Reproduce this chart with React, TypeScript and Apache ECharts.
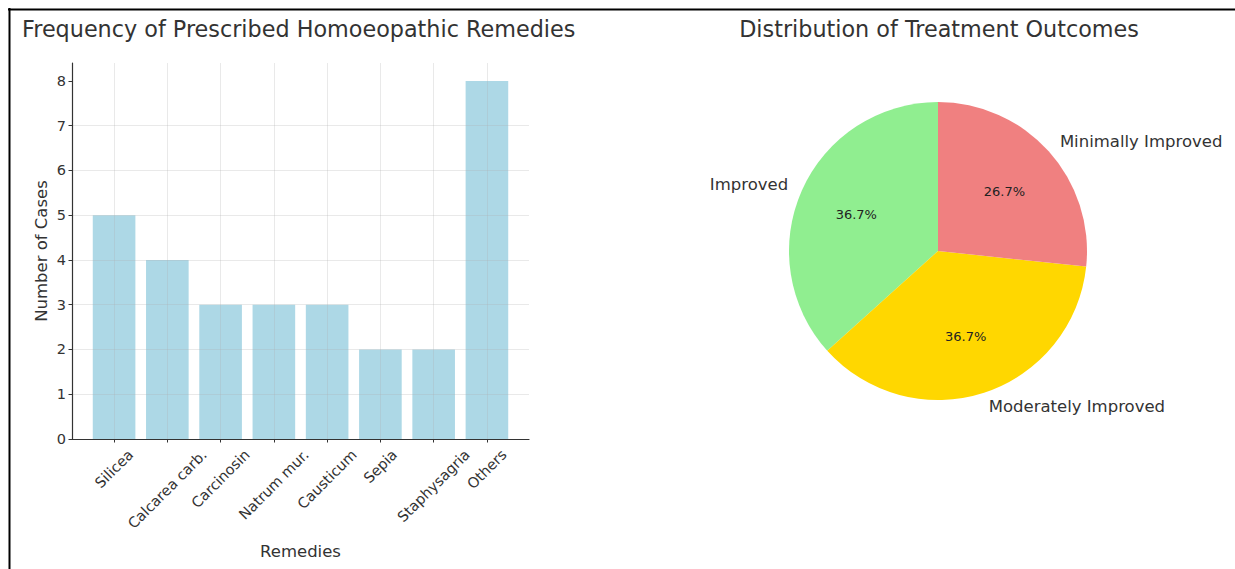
import React, { useEffect, useRef } from "react";
import * as echarts from "echarts";

// Bar chart: how often each remedy was prescribed
const remedies = [
  "Silicea",
  "Calcarea carb.",
  "Carcinosin",
  "Natrum mur.",
  "Causticum",
  "Sepia",
  "Staphysagria",
  "Others",
];
const caseCounts = [5, 4, 3, 3, 3, 2, 2, 8];
const caseTicks = [0, 1, 2, 3, 4, 5, 6, 7, 8];

// Pie chart: treatment outcomes
const outcomeNames = ["Improved", "Moderately Improved", "Minimally Improved"];
const outcomeCounts = [11, 11, 8];
const outcomeColors = ["#90EE90", "#FFD700", "#F08080"];

const FONT = "'DejaVu Sans', Verdana, sans-serif";
const TEXT = "#333";
const TICK_SIZE = 14.5;
const LABEL_SIZE = 16.5;
const TITLE_SIZE = 22.3;

function textWidth(text: string, size: number): number {
  const ctx = document.createElement("canvas").getContext("2d");
  if (!ctx) return text.length * size * 0.6;
  ctx.font = `${size}px ${FONT}`;
  return ctx.measureText(text).width;
}

export default function App() {
  const ref = useRef<HTMLDivElement>(null);

  useEffect(() => {
    if (!ref.current) return;
    const chart = echarts.init(ref.current, null, { renderer: "svg" });

    const n = remedies.length;
    // bars are 0.8 wide, axis padded by 5% of the bar extent on each side
    const pad = 0.4 + 0.05 * (n - 1 + 0.8);
    const plotLeft = 72;
    const plotWidth = 457;
    const unit = plotWidth / (n - 1 + 2 * pad);
    const bandLeft = plotLeft + (pad - 0.5) * unit;
    const yMax = caseTicks[caseTicks.length - 1] * 1.05;

    // Rotated tick labels are centred under their tick and hang below the axis:
    // the right padding slides the text back along its baseline and the line
    // height pushes it down, so the rotated box's centre sits straight below the tick.
    const remedyItems = remedies.map((name) => {
      const s = (textWidth(name, TICK_SIZE) + TICK_SIZE) / 2;
      return {
        value: name,
        textStyle: {
          align: "center",
          verticalAlign: "top",
          lineHeight: s,
          padding: [0, s, 0, 0],
          fontSize: TICK_SIZE,
          color: TEXT,
          fontFamily: FONT,
        },
      };
    });

    const gridLine = { color: "rgba(176,176,176,0.35)", width: 0.8 };
    const axisLine = { color: "#333", width: 1.2 };
    const titleStyle = { fontSize: TITLE_SIZE, fontWeight: "normal", color: TEXT, fontFamily: FONT };

    chart.setOption({
      animation: false,
      textStyle: { fontFamily: FONT },
      title: [
        {
          text: "Frequency of Prescribed Homoeopathic Remedies",
          left: 22,
          top: 18,
          padding: 0,
          textStyle: titleStyle,
        },
        {
          text: "Distribution of Treatment Outcomes",
          left: 939,
          top: 18,
          padding: 0,
          textAlign: "center",
          textStyle: titleStyle,
        },
      ],
      graphic: [
        {
          type: "line",
          shape: { x1: 8, y1: 9.5, x2: 1235, y2: 9.5 },
          style: { stroke: "#000", lineWidth: 2 },
          silent: true,
        },
        {
          type: "line",
          shape: { x1: 9.5, y1: 8, x2: 9.5, y2: 569 },
          style: { stroke: "#000", lineWidth: 2 },
          silent: true,
        },
      ],
      grid: [
        { left: plotLeft, top: 63, width: plotWidth, height: 376, outerBoundsMode: "none", containLabel: false },
        { left: bandLeft, top: 63, width: n * unit, height: 376, outerBoundsMode: "none", containLabel: false },
      ],
      xAxis: [
        {
          gridIndex: 0,
          type: "value",
          min: -pad,
          max: n - 1 + pad,
          splitNumber: n,
          z: 3,
          axisLine: { show: true, onZero: false, lineStyle: axisLine },
          axisTick: { show: false },
          axisLabel: { show: false },
          splitLine: { show: true, showMinLine: false, showMaxLine: false, lineStyle: gridLine },
        },
        {
          gridIndex: 1,
          type: "category",
          data: remedyItems,
          boundaryGap: true,
          z: 3,
          axisLine: { show: false },
          axisTick: { show: true, alignWithLabel: true, length: 3.5, lineStyle: { color: "#333" } },
          axisLabel: {
            interval: 0,
            rotate: 45,
            margin: 8,
            fontSize: TICK_SIZE,
            color: TEXT,
            fontFamily: FONT,
          },
          splitLine: { show: false },
          name: "Remedies",
          nameLocation: "middle",
          nameGap: 104,
          nameMoveOverlap: false,
          nameTextStyle: { fontSize: LABEL_SIZE, color: TEXT, fontFamily: FONT },
        },
      ],
      yAxis: [
        {
          gridIndex: 0,
          type: "value",
          min: 0,
          max: yMax,
          splitNumber: caseTicks.length - 1,
          z: 3,
          axisLine: { show: true, onZero: false, lineStyle: axisLine },
          axisTick: { show: true, length: 3.5, customValues: caseTicks, lineStyle: { color: "#333" } },
          axisLabel: {
            customValues: caseTicks,
            margin: 6,
            fontSize: TICK_SIZE,
            color: TEXT,
            fontFamily: FONT,
          },
          splitLine: { show: true, showMinLine: false, showMaxLine: false, lineStyle: gridLine },
          name: "Number of Cases",
          nameLocation: "middle",
          nameGap: 22,
          nameMoveOverlap: false,
          nameTextStyle: { fontSize: LABEL_SIZE, color: TEXT, fontFamily: FONT },
        },
        {
          gridIndex: 1,
          type: "value",
          min: 0,
          max: yMax,
          show: false,
        },
      ],
      series: [
        {
          type: "bar",
          xAxisIndex: 1,
          yAxisIndex: 1,
          data: caseCounts,
          barWidth: "80%",
          itemStyle: { color: "#ADD8E6" },
          silent: true,
          z: 2,
        },
        {
          type: "pie",
          center: [938, 251],
          radius: 149,
          startAngle: 90,
          clockwise: false,
          avoidLabelOverlap: false,
          silent: true,
          data: outcomeNames.map((name, i) => ({
            name,
            value: outcomeCounts[i],
            itemStyle: { color: outcomeColors[i], borderWidth: 0 },
          })),
          label: {
            show: true,
            position: "outside",
            distanceToLabelLine: 0,
            fontSize: LABEL_SIZE,
            color: TEXT,
            fontFamily: FONT,
          },
          labelLine: { show: false, length: 15, length2: 0 },
        },
        {
          // transparent overlay carrying the percentage labels at 0.6 of the radius
          type: "pie",
          center: [938, 251],
          radius: 172.8,
          startAngle: 90,
          clockwise: false,
          avoidLabelOverlap: false,
          silent: true,
          z: 3,
          data: outcomeNames.map((name, i) => ({
            name,
            value: outcomeCounts[i],
            itemStyle: { color: "rgba(0,0,0,0)", borderWidth: 0 },
          })),
          label: {
            show: true,
            position: "inside",
            formatter: (p: any) => `${p.percent.toFixed(1)}%`,
            fontSize: 13,
            color: "#222",
            fontFamily: FONT,
          },
          labelLine: { show: false },
        },
      ],
    });

    return () => chart.dispose();
  }, []);

  return (
    <div
      ref={ref}
      style={{ position: "absolute", left: 0, top: 0, width: 1235, height: 569, background: "#fff" }}
    />
  );
}
